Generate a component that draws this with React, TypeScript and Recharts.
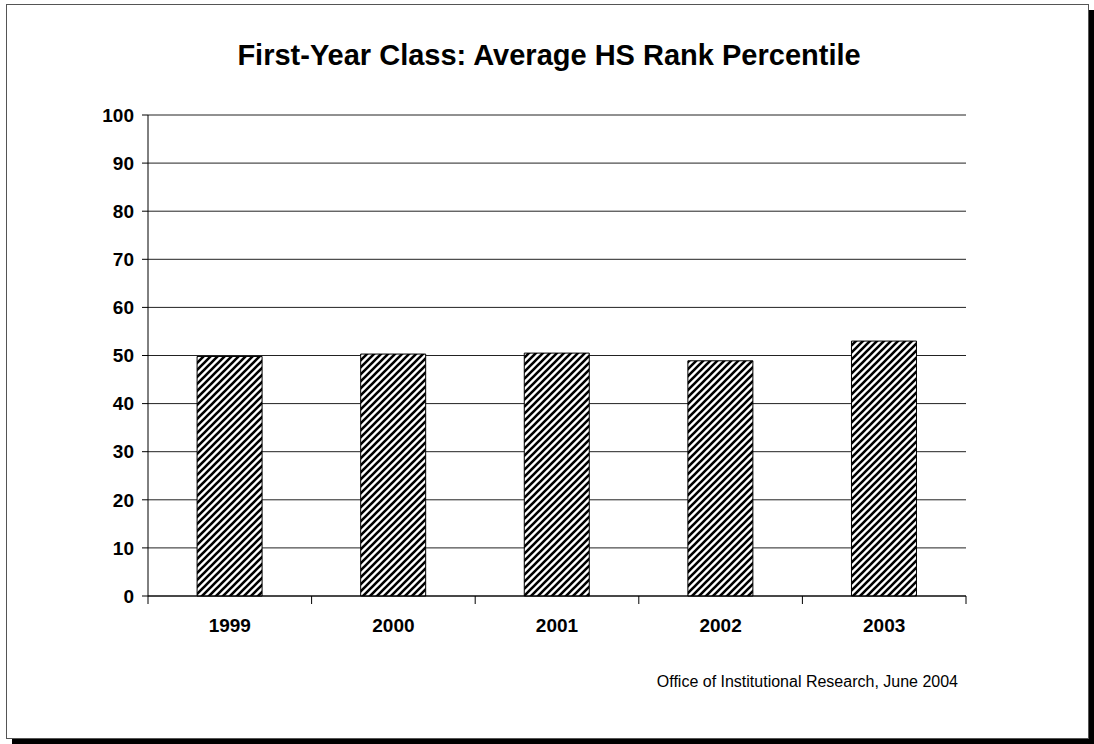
import { Bar, BarChart, CartesianGrid, XAxis, YAxis } from "recharts";

const years = ["1999", "2000", "2001", "2002", "2003"];
const avgRank = [49.8, 50.3, 50.5, 48.9, 53.0];
const yTicks = [0, 10, 20, 30, 40, 50, 60, 70, 80, 90, 100];

const data = years.map((year, i) => ({ year, value: avgRank[i] }));

const FONT = "'Liberation Sans', Arial, sans-serif";
const PLOT_LEFT = 148;
const PLOT_RIGHT = 966;
const BAND = (PLOT_RIGHT - PLOT_LEFT) / years.length;
const HATCH = 7;

// Excel-style category ticks: marks sit between categories, label centred
function YearTick(props: any) {
  const { x, y, payload, index } = props;
  return (
    <g>
      <line x1={x - BAND / 2} x2={x - BAND / 2} y1={y} y2={y + 8} stroke="#000" />
      {index === years.length - 1 && (
        <line x1={x + BAND / 2} x2={x + BAND / 2} y1={y} y2={y + 8} stroke="#000" />
      )}
      <text
        x={x}
        y={y + 36}
        textAnchor="middle"
        fontFamily={FONT}
        fontWeight="bold"
        fontSize={19}
        fill="#000"
      >
        {payload.value}
      </text>
    </g>
  );
}

export default function App() {
  return (
    <div
      style={{
        position: "absolute",
        left: 0,
        top: 0,
        width: 1094,
        height: 744,
        background: "#fff",
      }}
    >
      {/* page frame with drop shadow */}
      <div
        style={{
          position: "absolute",
          left: 6,
          top: 4,
          width: 1081,
          height: 733,
          border: "1px solid #555",
          boxShadow: "6px 6px 0 #000",
          background: "#fff",
        }}
      />
      <div
        style={{
          position: "absolute",
          left: 0,
          width: 1098,
          top: 39,
          textAlign: "center",
          fontFamily: FONT,
          fontWeight: "bold",
          fontSize: 29,
          color: "#000",
        }}
      >
        First-Year Class: Average HS Rank Percentile
      </div>
      <div
        style={{
          position: "absolute",
          left: 0,
          top: 0,
        }}
      >
        <BarChart
          width={1094}
          height={744}
          data={data}
          margin={{ top: 115, left: 88, right: 128, bottom: 108 }}
          barCategoryGap="30%"
        >
          <defs>
            {/* "/" diagonal hatch, drawn corner to corner */}
            <pattern id="hatch" width={HATCH} height={HATCH} patternUnits="userSpaceOnUse">
              <rect width={HATCH} height={HATCH} fill="#fff" />
              <path
                d={`M0,${HATCH} L${HATCH},0 M-2,2 L2,-2 M${HATCH - 2},${HATCH + 2} L${HATCH + 2},${HATCH - 2}`}
                stroke="#000"
                strokeWidth={2.6}
              />
            </pattern>
          </defs>
          <CartesianGrid yAxisId="left" vertical={false} stroke="#222" horizontalValues={yTicks} />
          <XAxis
            dataKey="year"
            height={40}
            tickLine={false}
            tickSize={0}
            tickMargin={0}
            axisLine={{ stroke: "#000" }}
            tick={<YearTick />}
            interval={0}
          />
          <YAxis
            yAxisId="left"
            width={60}
            domain={[0, 100]}
            ticks={yTicks}
            interval={0}
            tickSize={6}
            tickMargin={8}
            axisLine={{ stroke: "#000" }}
            tickLine={{ stroke: "#000" }}
            tick={{ fontFamily: FONT, fontWeight: "bold", fontSize: 19, fill: "#000" }}
          />
          <YAxis
            yAxisId="right"
            orientation="right"
            width={0}
            domain={[0, 100]}
            tick={false}
            tickLine={false}
            axisLine={{ stroke: "#999" }}
          />
          <Bar
            yAxisId="left"
            dataKey="value"
            fill="url(#hatch)"
            stroke="#000"
            strokeWidth={1}
            isAnimationActive={false}
          />
        </BarChart>
      </div>
      <div
        style={{
          position: "absolute",
          right: 1094 - 958,
          top: 673,
          fontFamily: FONT,
          fontSize: 16,
          color: "#000",
        }}
      >
        Office of Institutional Research, June 2004
      </div>
    </div>
  );
}
